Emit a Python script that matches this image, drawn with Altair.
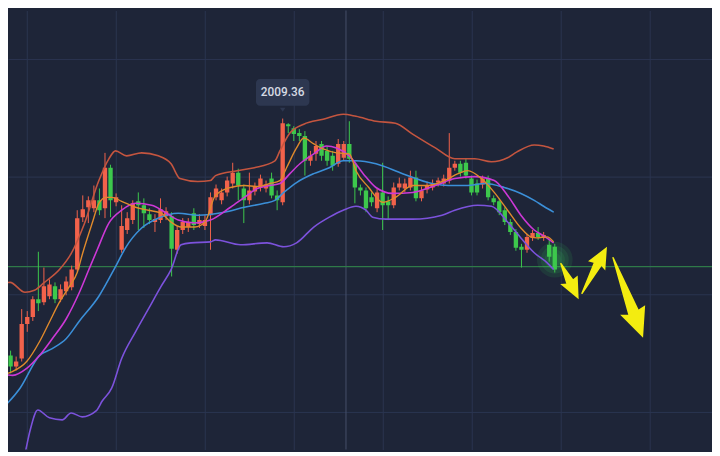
import math
import altair as alt
import pandas as pd

# ---------------- data ----------------
opens = [1886.5, 1889.5, 1884.0, 1888.0, 1905.5, 1909.0, 1918.0, 1916.5, 1919.5, 1924.5,
         1918.0, 1922.0, 1924.0, 1933.0, 1959.5, 1964.5, 1964.0, 1968.0, 1964.0, 1984.5,
         1967.0, 1943.0, 1953.0, 1958.0, 1967.5, 1965.5, 1961.0, 1957.0, 1958.0, 1960.0,
         1960.0, 1943.0, 1953.0, 1954.5, 1961.5, 1956.0, 1955.0, 1960.5, 1969.5, 1968.0,
         1972.0, 1976.5, 1982.0, 1974.0, 1968.0, 1972.5, 1974.5, 1974.0, 1979.0, 1970.5,
         1967.0, 2006.5, 2004.5, 2002.0, 2000.5, 1988.0, 1991.5, 1996.5, 1993.0, 1990.5,
         1986.5, 1989.5, 1996.5, 1986.5, 1974.5, 1973.0, 1969.5, 1964.0, 1972.0, 1967.5,
         1965.5, 1974.5, 1974.0, 1974.5, 1979.5, 1969.0, 1973.5, 1974.5, 1977.0, 1976.5,
         1978.0, 1984.5, 1986.5, 1987.0, 1979.0, 1976.5, 1976.0, 1979.0, 1969.0, 1967.5,
         1963.0, 1957.0, 1952.0, 1944.5, 1943.0, 1949.0, 1951.5, 1949.0, 1945.5, 1944.5]
closes = [1889.5, 1884.0, 1886.5, 1905.5, 1909.0, 1918.0, 1916.0, 1924.5, 1925.5, 1918.0,
          1923.0, 1927.0, 1933.0, 1959.0, 1963.5, 1968.0, 1968.0, 1963.0, 1984.5, 1968.0,
          1969.5, 1955.0, 1959.0, 1966.5, 1965.5, 1961.5, 1958.0, 1958.5, 1963.5, 1962.5,
          1943.5, 1953.0, 1957.0, 1957.0, 1955.5, 1958.0, 1958.0, 1969.5, 1974.0, 1972.0,
          1978.0, 1982.0, 1975.5, 1968.0, 1973.0, 1975.0, 1979.0, 1976.0, 1970.5, 1968.0,
          2007.0, 2005.5, 2001.5, 2000.5, 1988.0, 1990.5, 1995.5, 1990.5, 1988.0, 1985.5,
          1996.5, 1996.5, 1989.0, 1974.5, 1973.0, 1964.0, 1967.0, 1972.0, 1965.5, 1965.5,
          1974.5, 1976.5, 1976.5, 1979.5, 1969.0, 1973.0, 1975.5, 1976.5, 1978.0, 1979.0,
          1984.5, 1986.5, 1982.0, 1980.5, 1972.0, 1972.0, 1979.0, 1969.5, 1967.0, 1962.0,
          1957.0, 1952.0, 1944.0, 1943.0, 1949.5, 1951.5, 1949.5, 1950.5, 1939.5, 1933.0]
highs = [1896.5, 1892.0, 1889.0, 1913.0, 1912.0, 1919.5, 1942.0, 1934.0, 1928.0, 1926.5,
         1925.5, 1929.5, 1935.0, 1963.0, 1970.5, 1970.0, 1975.5, 1974.0, 1992.0, 1986.0,
         1971.5, 1965.5, 1962.0, 1968.0, 1972.0, 1969.0, 1964.0, 1961.0, 1969.0, 1964.5,
         1962.0, 1955.0, 1959.0, 1959.0, 1964.0, 1961.0, 1960.5, 1972.0, 1976.0, 1974.0,
         1980.0, 1987.0, 1984.0, 1976.0, 1982.0, 1977.0, 1981.0, 1978.0, 1982.0, 1973.0,
         2009.36, 2007.0, 2005.5, 2004.0, 2003.0, 1993.0, 1998.0, 1998.0, 1995.5, 1993.0,
         1999.0, 1998.0, 2008.0, 1988.0, 1976.0, 1974.5, 1972.0, 1974.0, 1987.0, 1970.0,
         1977.0, 1979.5, 1979.0, 1983.0, 1983.0, 1975.0, 1977.5, 1978.5, 1979.5, 1981.0,
         2002.0, 1988.0, 1988.0, 1989.0, 1980.5, 1978.5, 1980.5, 1980.5, 1970.5, 1969.0,
         1964.5, 1958.5, 1953.5, 1946.0, 1951.0, 1953.0, 1954.5, 1952.0, 1948.0, 1946.0]
lows = [1882.0, 1880.5, 1882.0, 1886.5, 1901.5, 1907.0, 1912.0, 1915.0, 1918.0, 1916.0,
        1916.5, 1920.0, 1922.5, 1932.0, 1957.0, 1956.5, 1962.0, 1960.5, 1959.0, 1959.5,
        1965.0, 1941.5, 1951.0, 1956.0, 1953.0, 1954.0, 1956.0, 1952.0, 1956.5, 1958.0,
        1929.5, 1941.0, 1951.0, 1952.0, 1953.0, 1954.0, 1953.0, 1943.0, 1968.0, 1966.0,
        1970.0, 1974.0, 1968.0, 1956.5, 1966.0, 1970.5, 1972.5, 1972.0, 1969.0, 1963.0,
        1965.5, 2002.0, 1998.0, 1998.0, 1980.5, 1985.5, 1988.0, 1988.0, 1985.5, 1983.0,
        1985.0, 1988.0, 1987.0, 1966.5, 1970.5, 1962.0, 1965.0, 1962.0, 1953.0, 1958.0,
        1964.0, 1973.0, 1972.0, 1973.0, 1967.5, 1967.5, 1971.5, 1973.0, 1975.0, 1975.0,
        1976.5, 1983.0, 1980.0, 1979.0, 1970.5, 1970.5, 1974.0, 1968.0, 1965.5, 1960.5,
        1955.5, 1950.5, 1942.5, 1934.0, 1941.5, 1947.5, 1948.0, 1947.5, 1937.0, 1931.5]

# Bollinger upper band
upper_x = [-0.9, 0.9, 3.6, 5.3, 7.1, 9.8, 11.9, 14.2, 16.9, 18.7, 19.9, 21.9, 24.6, 27.6,
           29.9, 31.5, 34.7, 37.0, 37.9, 41.8, 44.9, 48.6, 49.5, 51.3, 53.8, 57.3, 60.9,
           63.2, 66.8, 70.3, 73.4, 77.5, 81.0, 84.6, 87.6, 90.5, 92.2, 95.3, 97.0, 98.8]
upper_y = [1925.5, 1926.5, 1921.5, 1922.5, 1926.5, 1933.0, 1941.0, 1955.5, 1978.0, 1989.0,
           1993.0, 1990.5, 1992.0, 1990.5, 1986.5, 1979.0, 1977.5, 1978.0, 1980.5, 1983.0,
           1984.5, 1988.0, 1993.0, 2002.0, 2006.5, 2009.0, 2011.5, 2010.5, 2008.0, 2007.0,
           2001.5, 1994.5, 1989.0, 1989.0, 1987.5, 1989.5, 1992.5, 1996.0, 1995.5, 1994.0]
# middle band (blue)
mid_x = [-0.9, 2.7, 6.2, 8.5, 11.0, 13.4, 16.9, 19.9, 21.7, 24.6, 27.6, 31.2, 34.7, 39.5,
         43.1, 46.7, 48.6, 50.2, 52.5, 55.6, 58.4, 60.9, 63.2, 66.8, 71.6, 76.9, 79.8,
         83.3, 86.4, 89.9, 92.9, 95.3, 97.0, 98.8]
mid_y = [1861.5, 1873.0, 1889.5, 1893.0, 1898.0, 1907.0, 1919.5, 1934.5, 1944.0, 1954.0,
         1959.0, 1961.5, 1960.5, 1962.0, 1964.5, 1966.5, 1968.0, 1972.0, 1977.0, 1981.5,
         1984.5, 1988.0, 1988.0, 1986.5, 1981.5, 1976.5, 1975.5, 1975.5, 1976.5, 1974.5,
         1971.5, 1968.0, 1965.0, 1962.0]
# magenta moving average
ma_x = [-0.9, 1.4, 3.9, 6.2, 8.5, 11.0, 13.4, 15.1, 16.6, 18.7, 21.0, 23.5, 26.4, 28.8,
        31.2, 34.2, 37.0, 40.6, 43.1, 45.4, 47.7, 49.5, 51.3, 53.1, 55.6, 57.9, 59.7,
        62.0, 64.5, 66.8, 69.8, 73.4, 77.5, 81.0, 84.6, 88.1, 90.5, 92.9, 95.3, 97.0, 98.8]
ma_y = [1880.5, 1879.5, 1883.0, 1889.5, 1898.0, 1908.0, 1921.5, 1933.0, 1943.0, 1956.5,
        1963.0, 1966.5, 1965.5, 1962.0, 1958.0, 1956.5, 1958.0, 1964.5, 1969.5, 1974.0,
        1975.5, 1976.5, 1981.5, 1986.5, 1991.5, 1995.5, 1994.5, 1990.5, 1981.5, 1974.5,
        1971.5, 1972.0, 1975.5, 1979.0, 1980.0, 1978.0, 1970.5, 1960.5, 1953.0, 1950.0,
        1946.5]
# Bollinger lower band (purple)
lower_x = [3.0, 3.6, 4.5, 5.9, 8.0, 10.3, 11.9, 13.9, 16.4, 17.5, 19.2, 21.0, 23.5, 25.8,
           28.1, 29.9, 31.7, 33.5, 37.0, 37.9, 42.4, 47.2, 50.2, 52.5, 55.6, 58.4, 60.9,
           63.2, 65.0, 66.2, 68.6, 73.4, 78.7, 81.0, 85.1, 87.6, 90.5, 92.9, 95.3, 97.6,
           98.8]
lower_y = [1833.0, 1840.0, 1851.5, 1862.0, 1858.0, 1857.0, 1860.5, 1858.5, 1861.5, 1866.5,
           1873.0, 1888.0, 1901.5, 1913.0, 1924.5, 1933.0, 1945.5, 1946.5, 1947.0, 1948.0,
           1945.5, 1946.5, 1944.5, 1946.5, 1954.5, 1959.5, 1963.0, 1965.0, 1963.0, 1959.5,
           1958.5, 1958.5, 1960.5, 1963.0, 1965.5, 1965.0, 1957.0, 1949.0, 1941.5, 1936.5,
           1933.0]
# fast moving average (orange)
fast_x = [-0.9, 1.4, 3.9, 6.2, 8.0, 9.8, 11.6, 13.0, 13.9, 15.7, 16.9, 18.2, 19.2, 21.0,
          23.5, 25.8, 28.1, 29.9, 31.7, 34.2, 36.0, 37.9, 40.6, 43.1, 45.4, 47.7, 49.5,
          50.7, 52.5, 53.8, 55.6, 57.3, 59.7, 62.0, 63.2, 65.5, 68.0, 70.3, 73.4, 76.2,
          79.2, 81.6, 83.3, 85.8, 88.1, 90.5, 92.9, 94.7, 95.8, 97.6, 98.8]
fast_y = [1879.5, 1881.5, 1886.5, 1896.5, 1906.5, 1916.5, 1924.5, 1931.5, 1940.5, 1956.5,
          1966.5, 1969.5, 1969.5, 1967.5, 1964.5, 1963.0, 1961.5, 1957.0, 1954.5, 1954.5,
          1957.0, 1970.5, 1974.5, 1975.5, 1975.0, 1976.5, 1978.0, 1984.5, 1994.5, 1999.5,
          1996.5, 1994.0, 1992.0, 1991.5, 1983.0, 1974.5, 1967.0, 1969.5, 1975.5, 1975.5,
          1978.0, 1981.5, 1983.0, 1979.0, 1972.0, 1963.0, 1954.0, 1949.5, 1949.0, 1949.5,
          1947.0]

support_level = 1934.5          # green horizontal line
cursor_bar = 61.4               # vertical cursor line
peak_label = "2009.36"
peak_bar = 50

# yellow hand-drawn arrows: (tail bar, tail price, tip bar, tip price)
arrow_tail_x = [100.1, 103.9, 109.5]
arrow_tail_y = [1936.0, 1921.0, 1939.0]
arrow_tip_x = [103.3, 108.4, 114.9]
arrow_tip_y = [1918.0, 1944.5, 1898.5]

# ---------------- layout ----------------
W, H = 712, 444
PX_X = 5.616          # pixels per bar
PX_Y = 2.0            # pixels per price unit
x_dom = [0.534, 0.534 + W / PX_X]
y_dom = [1842.0, 1842.0 + H / PX_Y]

BG = "#1e2538"
RED = "#f2624b"
GREEN = "#3dc84c"

xs = alt.Scale(domain=x_dom, nice=False, zero=False, padding=0)
ys = alt.Scale(domain=y_dom, nice=False, zero=False, padding=0)

candles = pd.DataFrame({"i": range(len(opens)), "open": opens, "close": closes,
                        "high": highs, "low": lows})
candles["up"] = candles["close"] >= candles["open"]
col = alt.Color("up:N", scale=alt.Scale(domain=[True, False], range=[RED, GREEN]), legend=None)

grid_x = [3.92 + 16.03 * k for k in range(8)]
grid_y = [1861.0 + 59.5 * k for k in range(4)]

base = alt.Chart(candles)

wicks = base.mark_rule(strokeWidth=1, clip=True).encode(
    x=alt.X("i:Q", scale=xs,
            axis=alt.Axis(values=grid_x, grid=True, labels=False, ticks=False, domain=False,
                          title=None, gridColor="#2b3550", gridWidth=1)),
    y=alt.Y("low:Q", scale=ys,
            axis=alt.Axis(values=grid_y, grid=True, labels=False, ticks=False, domain=False,
                          title=None, gridColor="#2b3550", gridWidth=1)),
    y2="high:Q",
    color=col,
)
bodies = base.mark_bar(size=4.4, clip=True).encode(
    x=alt.X("i:Q", scale=xs), y=alt.Y("open:Q", scale=ys), y2="close:Q", color=col)

layers = []
cursor = alt.Chart(pd.DataFrame({"x": [cursor_bar]})).mark_rule(
    color="#46506a", strokeWidth=1).encode(x=alt.X("x:Q", scale=xs))
support = alt.Chart(pd.DataFrame({"y": [support_level]})).mark_rule(
    color="#2f7a48", strokeWidth=1.2).encode(y=alt.Y("y:Q", scale=ys))
layers += [cursor, support]

glow = alt.Chart(pd.DataFrame({"x": [99] * 4, "y": [1938.0] * 4,
                               "s": [1300, 800, 420, 180]})).mark_circle(
    color="#3ee05a", opacity=0.1, clip=True).encode(
    x=alt.X("x:Q", scale=xs), y=alt.Y("y:Q", scale=ys), size=alt.Size("s:Q", scale=None))
layers += [glow, wicks, bodies]


def line_layer(xv, yv, color, w=1.6):
    df = pd.DataFrame({"x": xv, "y": yv})
    return alt.Chart(df).mark_line(color=color, strokeWidth=w, interpolate="monotone",
                                   clip=True).encode(
        x=alt.X("x:Q", scale=xs), y=alt.Y("y:Q", scale=ys))


layers += [
    line_layer(upper_x, upper_y, "#c4553f"),
    line_layer(lower_x, lower_y, "#7c52dc"),
    line_layer(mid_x, mid_y, "#3b8fd8"),
    line_layer(ma_x, ma_y, "#cc38d6"),
    line_layer(fast_x, fast_y, "#e08a2c", 1.4),
]

# arrows
YEL = "#f3ec10"
HEAD_PATH = "M0,0L0.9,2L0.25,1.75L-0.9,2Z"
for k, (tx, ty, hx, hy) in enumerate(zip(arrow_tail_x, arrow_tail_y, arrow_tip_x, arrow_tip_y)):
    dxp = (hx - tx) * PX_X
    dyp = -(hy - ty) * PX_Y
    length = math.hypot(dxp, dyp)
    head = 30 if k == 2 else 22
    ux, uy = dxp / length, dyp / length
    bx = hx - ux * head * 0.85 / PX_X
    by = hy + uy * head * 0.85 / PX_Y
    stem = pd.DataFrame({"x": [tx, bx], "y": [ty, by], "w": [1.5, head * 0.4], "o": [0, 1]})
    layers.append(alt.Chart(stem).mark_trail(color=YEL, clip=True).encode(
        x=alt.X("x:Q", scale=xs), y=alt.Y("y:Q", scale=ys),
        size=alt.Size("w:Q", scale=None), order="o:Q"))
    ang = math.degrees(math.atan2(dxp, -dyp)) % 360
    layers.append(alt.Chart(pd.DataFrame({"x": [hx], "y": [hy]})).mark_point(
        shape=HEAD_PATH, filled=True, color=YEL, opacity=1, size=head * head,
        angle=ang, clip=True).encode(x=alt.X("x:Q", scale=xs), y=alt.Y("y:Q", scale=ys)))

# peak price label
pk = highs[peak_bar]
box = pd.DataFrame({"x": [peak_bar - 27 / PX_X], "x2": [peak_bar + 27 / PX_X],
                    "y": [pk + 13 / PX_Y], "y2": [pk + 40 / PX_Y]})
layers.append(alt.Chart(box).mark_rect(color="#2d3750", cornerRadius=4).encode(
    x=alt.X("x:Q", scale=xs), x2="x2:Q", y=alt.Y("y:Q", scale=ys), y2="y2:Q"))
layers.append(alt.Chart(pd.DataFrame({"x": [peak_bar], "y": [pk + 7 / PX_Y]})).mark_point(
    shape="M0,0L1,-1.4L-1,-1.4Z", filled=True, color="#2d3750", opacity=1, size=30).encode(
    x=alt.X("x:Q", scale=xs), y=alt.Y("y:Q", scale=ys)))
layers.append(alt.Chart(pd.DataFrame({"x": [peak_bar], "y": [pk + 26.5 / PX_Y],
                                      "t": [peak_label]})).mark_text(
    font="Roboto", fontSize=12, fontWeight=500, color="#d6dae3", baseline="middle",
    align="center").encode(x=alt.X("x:Q", scale=xs), y=alt.Y("y:Q", scale=ys), text="t:N"))

chart = alt.layer(*layers).properties(
    width=W, height=H, background=BG, padding=0,
    autosize=alt.AutoSizeParams(type="none"),
).configure_view(strokeWidth=0)

chart.save("out.html", embed_options={"renderer": "svg", "actions": False})
